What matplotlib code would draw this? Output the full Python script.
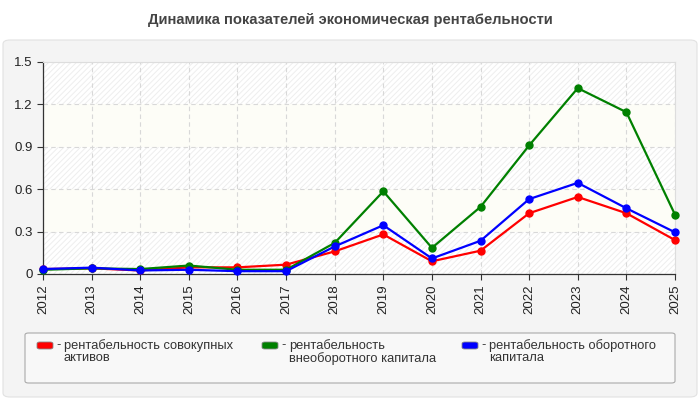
import matplotlib
matplotlib.use("Agg")
import matplotlib.pyplot as plt
from matplotlib.patches import FancyBboxPatch, Rectangle

plt.rcParams['font.family'] = ['Liberation Sans', 'DejaVu Sans']
plt.rcParams['hatch.linewidth'] = 0.7

years = [2012, 2013, 2014, 2015, 2016, 2017, 2018, 2019, 2020, 2021, 2022, 2023, 2024, 2025]
red_vals = [0.035, 0.04, 0.025, 0.047, 0.047, 0.066, 0.16, 0.28, 0.09, 0.165, 0.43, 0.545, 0.43, 0.24]
green_vals = [0.03, 0.04, 0.035, 0.06, 0.03, 0.03, 0.22, 0.585, 0.185, 0.475, 0.91, 1.315, 1.145, 0.42]
blue_vals = [0.035, 0.045, 0.025, 0.03, 0.02, 0.02, 0.195, 0.345, 0.11, 0.235, 0.53, 0.645, 0.465, 0.295]
series_labels = ["рентабельность совокупных\nактивов",
                 "рентабельность\nвнеоборотного капитала",
                 "рентабельность оборотного\nкапитала"]
colors = ["#ff0000", "#008000", "#0000ff"]
yticks = [0, 0.3, 0.6, 0.9, 1.2, 1.5]
ytick_labels = ["0", "0.3", "0.6", "0.9", "1.2", "1.5"]
title = "Динамика показателей экономическая рентабельности"

W, H = 700, 400
fig = plt.figure(figsize=(7, 4), dpi=100)
fig.patch.set_facecolor("white")

# panel background
panel = FancyBboxPatch((3 / W, 3 / H), 694 / W, 357 / H,
                       boxstyle="round,pad=0,rounding_size=0.01",
                       transform=fig.transFigure, facecolor="#f4f4f4",
                       edgecolor="#e2e2e2", linewidth=0.8, zorder=0)
fig.patches.append(panel)

fig.text(0.5, 1 - 20 / H, title, ha="center", va="center", fontsize=10.6,
         fontweight="bold", color="#444444")

ax = fig.add_axes([43 / W, 1 - 274 / H, 632 / W, 212 / H])
ax.set_zorder(5)
ax.set_facecolor("white")
ax.set_xlim(years[0], years[-1])
ax.set_ylim(0, 1.5)

# alternating bands
for i in range(len(yticks) - 1):
    y0, y1 = yticks[i], yticks[i + 1]
    if i % 2 == 0:
        ax.add_patch(Rectangle((years[0], y0), years[-1] - years[0], y1 - y0,
                               facecolor="white", edgecolor="#eeeeee",
                               hatch="//////", linewidth=0, zorder=0))
    else:
        ax.add_patch(Rectangle((years[0], y0), years[-1] - years[0], y1 - y0,
                               facecolor="#fdfdf7", edgecolor="none",
                               linewidth=0, zorder=0))

ax.set_xticks(years)
ax.set_xticklabels([str(y) for y in years], rotation=90, fontsize=9.5, color="#222222")
ax.set_yticks(yticks)
ax.set_yticklabels(ytick_labels, fontsize=9.5, color="#222222")
ax.grid(True, color="#d8d8d8", linestyle=(0, (4, 3)), linewidth=0.8, zorder=1)
ax.tick_params(axis="both", length=4, color="#333333", width=0.8)

for side in ["top", "right"]:
    ax.spines[side].set_color("#dddddd")
for side in ["left", "bottom"]:
    ax.spines[side].set_color("#333333")
    ax.spines[side].set_linewidth(0.9)

for vals, c in zip([red_vals, green_vals, blue_vals], colors):
    ax.plot(years, vals, color=c, linewidth=1.6, marker="o", markersize=5,
            zorder=3, clip_on=False)

# legend box
leg = FancyBboxPatch((25 / W, 1 - 383 / H), 650 / W, 50 / H,
                     boxstyle="round,pad=0,rounding_size=0.005",
                     transform=fig.transFigure, facecolor="#f8f8f8",
                     edgecolor="#aaaaaa", linewidth=0.8, zorder=1)
fig.patches.append(leg)

leg_x = [37, 262, 462]
for x, c, lab in zip(leg_x, colors, series_labels):
    sw = FancyBboxPatch((x / W, 1 - 349 / H), 16 / W, 7 / H,
                        boxstyle="round,pad=0,rounding_size=0.004",
                        transform=fig.transFigure, facecolor=c,
                        edgecolor="#888888", linewidth=0.6, zorder=2)
    fig.patches.append(sw)
    fig.text((x + 19) / W, 1 - 339 / H, "-", ha="left", va="top",
             fontsize=9.3, color="#333333")
    fig.text((x + 27) / W, 1 - 339 / H, lab, ha="left", va="top",
             fontsize=9.3, color="#333333", linespacing=1.0)

fig.savefig("out.png", dpi=100)
